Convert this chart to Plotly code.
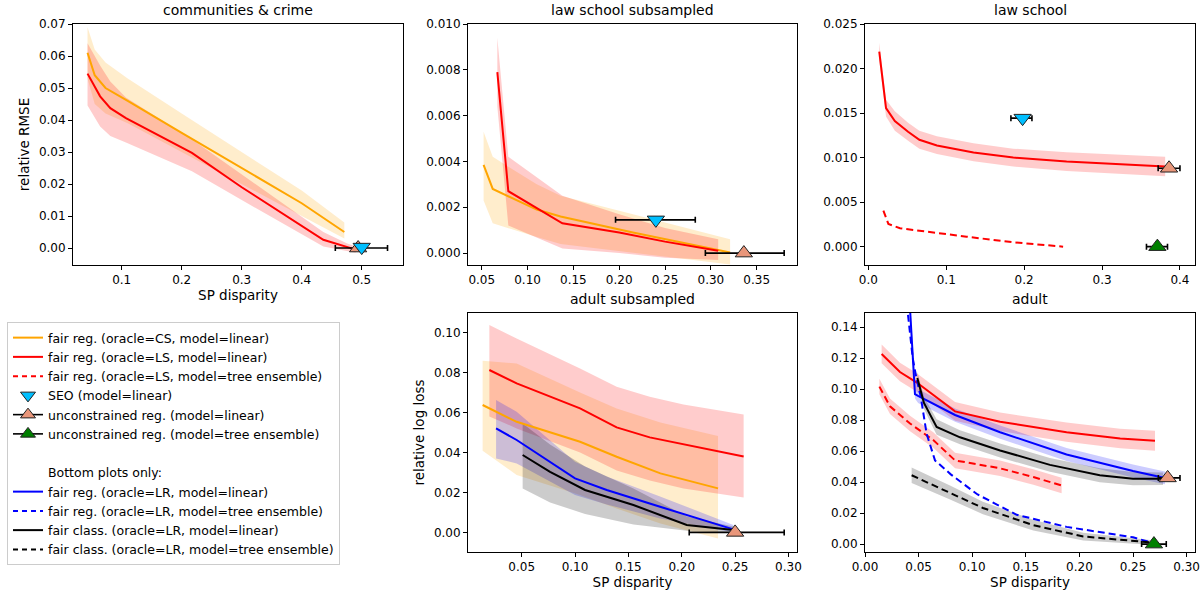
import plotly.graph_objects as go

W, H = 1201, 590

# ---------------- data ----------------
# communities & crime
cc_cs_x = [0.043, 0.055, 0.073, 0.11, 0.20, 0.30, 0.40, 0.471]
cc_cs_y = [0.061, 0.054, 0.050, 0.046, 0.036, 0.025, 0.014, 0.005]
cc_cs_hi = [0.069, 0.062, 0.058, 0.053, 0.042, 0.030, 0.018, 0.008]
cc_cs_lo = [0.053, 0.045, 0.042, 0.039, 0.030, 0.020, 0.010, 0.003]
cc_ls_x = [0.043, 0.064, 0.081, 0.107, 0.217, 0.30, 0.436, 0.475, 0.49]
cc_ls_y = [0.0545, 0.0474, 0.0437, 0.0406, 0.0297, 0.019, 0.0026, 0.0002, -0.0005]
cc_ls_hi = [0.064, 0.057, 0.052, 0.047, 0.034, 0.023, 0.005, 0.0015, 0.0005]
cc_ls_lo = [0.0445, 0.038, 0.035, 0.033, 0.024, 0.015, 0.0005, -0.001, -0.0015]
cc_seo = (0.500, 0.0003, 0.005, 0.005)
cc_unc_lin = (0.494, 0.0, 0.038, 0.049)

# law school subsampled
lss_ls_x = [0.067, 0.079, 0.138, 0.20, 0.25, 0.308]
lss_ls_y = [0.0079, 0.0027, 0.0013, 0.0009, 0.0005, 0.0001]
lss_ls_hi = [0.0094, 0.0042, 0.0025, 0.0017, 0.0011, 0.0006]
lss_ls_lo = [0.0064, 0.0012, 0.0002, 0.0000, -0.0002, -0.0003]
lss_cs_x = [0.052, 0.062, 0.11, 0.136, 0.215, 0.321]
lss_cs_y = [0.00385, 0.0028, 0.0019, 0.0016, 0.0009, 0.00003]
lss_cs_hi = [0.0053, 0.0042, 0.0030, 0.0025, 0.0017, 0.0006]
lss_cs_lo = [0.0023, 0.0013, 0.0007, 0.0004, 0.0000, -0.0005]
lss_seo = (0.240, 0.00145, 0.044, 0.043)
lss_unc_lin = (0.336, 0.0, 0.042, 0.044)

# law school
ls_ls_x = [0.014, 0.0227, 0.034, 0.051, 0.0655, 0.088, 0.135, 0.186, 0.2545, 0.381]
ls_ls_y = [0.0219, 0.01555, 0.0141, 0.0129, 0.0120, 0.01136, 0.01057, 0.0100, 0.00956, 0.0090]
ls_ls_hi = [0.0229, 0.0165, 0.0152, 0.0139, 0.0130, 0.0124, 0.0116, 0.0110, 0.0106, 0.0101]
ls_ls_lo = [0.0209, 0.0146, 0.0130, 0.0119, 0.0110, 0.0104, 0.0096, 0.0090, 0.0085, 0.0079]
ls_lstree_x = [0.0193, 0.0257, 0.0406, 0.0834, 0.126, 0.186, 0.250]
ls_lstree_y = [0.00405, 0.00255, 0.00206, 0.00157, 0.00112, 0.00049, 0.0]
ls_seo = (0.198, 0.01443, 0.015, 0.012)
ls_unc_lin = (0.386, 0.0088, 0.014, 0.014)
ls_unc_tree = (0.371, 0.0, 0.014, 0.013)

# adult subsampled
as_ls_x = [0.0197, 0.0453, 0.1047, 0.139, 0.170, 0.2016, 0.258]
as_ls_y = [0.0812, 0.0745, 0.062, 0.0525, 0.0475, 0.0442, 0.038]
as_ls_hi = [0.1037, 0.097, 0.082, 0.0728, 0.0678, 0.064, 0.059]
as_ls_lo = [0.058, 0.052, 0.040, 0.031, 0.026, 0.022, 0.0175]
as_cs_x = [0.0134, 0.0453, 0.1047, 0.139, 0.18, 0.234]
as_cs_y = [0.0637, 0.0553, 0.0453, 0.0378, 0.0295, 0.022]
as_cs_hi = [0.0858, 0.0845, 0.070, 0.062, 0.055, 0.0482]
as_cs_lo = [0.0408, 0.0287, 0.0187, 0.012, 0.0045, -0.003]
as_lr_x = [0.026, 0.0453, 0.100, 0.1297, 0.1797, 0.2484]
as_lr_y = [0.052, 0.0462, 0.027, 0.0212, 0.0128, 0.0015]
as_lr_hi = [0.0662, 0.0603, 0.0353, 0.028, 0.018, 0.0037]
as_lr_lo = [0.037, 0.0345, 0.0187, 0.014, 0.007, 0.0]
as_cl_x = [0.0509, 0.0766, 0.1094, 0.1547, 0.2047, 0.2484]
as_cl_y = [0.0387, 0.0303, 0.0212, 0.0137, 0.0037, 0.0012]
as_cl_hi = [0.0545, 0.044, 0.033, 0.022, 0.008, 0.003]
as_cl_lo = [0.022, 0.015, 0.0092, 0.004, 0.0008, 0.0]
as_unc_lin = (0.250, 0.0, 0.043, 0.046)

# adult
ad_ls_x = [0.0155, 0.0326, 0.048, 0.084, 0.126, 0.188, 0.238, 0.2705]
ad_ls_y = [0.1227, 0.111, 0.1044, 0.0856, 0.0789, 0.0722, 0.0682, 0.0667]
ad_ls_hi = [0.1287, 0.117, 0.1104, 0.0916, 0.0849, 0.0784, 0.0745, 0.0732]
ad_ls_lo = [0.1167, 0.105, 0.0984, 0.0796, 0.0729, 0.0660, 0.0619, 0.0602]
ad_lstree_x = [0.0134, 0.0233, 0.042, 0.0637, 0.084, 0.126, 0.157, 0.1834]
ad_lstree_y = [0.1016, 0.0889, 0.0778, 0.0671, 0.054, 0.0489, 0.0433, 0.0378]
ad_lstree_hi = [0.1066, 0.0939, 0.0828, 0.0721, 0.059, 0.0539, 0.0483, 0.0428]
ad_lstree_lo = [0.0966, 0.0839, 0.0728, 0.0621, 0.049, 0.0439, 0.0383, 0.0328]
ad_lr_x = [0.0413, 0.0466, 0.0495, 0.084, 0.126, 0.188, 0.250, 0.2798]
ad_lr_y = [0.16, 0.0967, 0.0956, 0.0833, 0.0722, 0.0578, 0.0471, 0.0427]
ad_lr_hi = [0.165, 0.108, 0.1, 0.0875, 0.0765, 0.062, 0.0513, 0.0468]
ad_lr_lo = [0.155, 0.094, 0.091, 0.079, 0.068, 0.0536, 0.043, 0.0386]
ad_lrtree_x = [0.039, 0.0445, 0.048, 0.052, 0.0575, 0.0653, 0.08, 0.105, 0.1415, 0.188, 0.25, 0.27]
ad_lrtree_y = [0.155, 0.12, 0.107, 0.095, 0.0711, 0.054, 0.045, 0.032, 0.0189, 0.0111, 0.0044, 0.0004]
ad_cl_x = [0.0488, 0.055, 0.0668, 0.0886, 0.126, 0.1725, 0.219, 0.25, 0.278]
ad_cl_y = [0.1071, 0.0911, 0.0756, 0.0689, 0.0604, 0.0511, 0.0444, 0.0422, 0.0422]
ad_cl_hi = [0.1111, 0.0951, 0.0806, 0.0734, 0.0649, 0.0556, 0.0489, 0.0465, 0.0462]
ad_cl_lo = [0.1031, 0.0871, 0.0706, 0.0644, 0.0559, 0.0466, 0.0399, 0.0379, 0.0382]
ad_cltree_x = [0.0435, 0.0793, 0.110, 0.157, 0.2036, 0.266]
ad_cltree_y = [0.0444, 0.0333, 0.0233, 0.0122, 0.0049, 0.0011]
ad_cltree_hi = [0.0494, 0.0378, 0.0273, 0.0157, 0.0074, 0.0026]
ad_cltree_lo = [0.0394, 0.0288, 0.0193, 0.0087, 0.0024, -0.0004]
ad_unc_lin = (0.2823, 0.0427, 0.0087, 0.0115)
ad_unc_tree = (0.2695, 0.0, 0.0115, 0.0115)

titles = ["communities & crime", "law school subsampled", "law school",
          "adult subsampled", "adult"]

# ---------------- styling ----------------
ORANGE = "#FFA500"
RED = "#FF0000"
BLUE = "#0000FF"
BLACK = "#000000"
BAND = {ORANGE: "rgba(255,165,0,0.2)", RED: "rgba(255,0,0,0.2)",
        BLUE: "rgba(0,0,255,0.2)", BLACK: "rgba(0,0,0,0.2)"}
SEO_C = "#00BFFF"
UNC_LIN_C = "#E9967A"
UNC_TREE_C = "#008000"
FONT = "DejaVu Sans"

# pixel boxes (left, top, right, bottom)
boxes = [(73, 24, 403, 265), (468, 24, 797, 265), (865, 24, 1195, 265),
         (468, 313, 797, 552), (865, 313, 1195, 552)]

fig = go.Figure()


def axref(i):
    n = "" if i == 0 else str(i + 1)
    return "x" + n, "y" + n


def band(i, x, lo, hi, color):
    xa, ya = axref(i)
    fig.add_trace(go.Scatter(x=list(x) + list(x)[::-1], y=list(hi) + list(lo)[::-1],
                             fill="toself", fillcolor=BAND[color], line=dict(width=0),
                             mode="lines", hoverinfo="skip", showlegend=False,
                             xaxis=xa, yaxis=ya))


def line(i, x, y, color, dash="solid"):
    xa, ya = axref(i)
    fig.add_trace(go.Scatter(x=x, y=y, mode="lines",
                             line=dict(color=color, width=2, dash=dash),
                             showlegend=False, xaxis=xa, yaxis=ya))


def marker(i, pt, color, symbol):
    xa, ya = axref(i)
    x, y, em, ep = pt
    fig.add_trace(go.Scatter(x=[x], y=[y], mode="markers",
                             marker=dict(symbol=symbol, size=15, color=color,
                                         line=dict(color="#222222", width=1)),
                             error_x=dict(type="data", array=[ep], arrayminus=[em],
                                          color="black", thickness=1.6, width=3),
                             showlegend=False, xaxis=xa, yaxis=ya))


DASH = "7px,4px"

# communities & crime
band(0, cc_cs_x, cc_cs_lo, cc_cs_hi, ORANGE)
band(0, cc_ls_x, cc_ls_lo, cc_ls_hi, RED)
line(0, cc_cs_x, cc_cs_y, ORANGE)
line(0, cc_ls_x, cc_ls_y, RED)
marker(0, cc_unc_lin, UNC_LIN_C, "triangle-up")
marker(0, cc_seo, SEO_C, "triangle-down")

# law school subsampled
band(1, lss_cs_x, lss_cs_lo, lss_cs_hi, ORANGE)
band(1, lss_ls_x, lss_ls_lo, lss_ls_hi, RED)
line(1, lss_cs_x, lss_cs_y, ORANGE)
line(1, lss_ls_x, lss_ls_y, RED)
marker(1, lss_seo, SEO_C, "triangle-down")
marker(1, lss_unc_lin, UNC_LIN_C, "triangle-up")

# law school
band(2, ls_ls_x, ls_ls_lo, ls_ls_hi, RED)
line(2, ls_ls_x, ls_ls_y, RED)
line(2, ls_lstree_x, ls_lstree_y, RED, DASH)
marker(2, ls_seo, SEO_C, "triangle-down")
marker(2, ls_unc_lin, UNC_LIN_C, "triangle-up")
marker(2, ls_unc_tree, UNC_TREE_C, "triangle-up")

# adult subsampled
band(3, as_cs_x, as_cs_lo, as_cs_hi, ORANGE)
band(3, as_ls_x, as_ls_lo, as_ls_hi, RED)
band(3, as_lr_x, as_lr_lo, as_lr_hi, BLUE)
band(3, as_cl_x, as_cl_lo, as_cl_hi, BLACK)
line(3, as_cs_x, as_cs_y, ORANGE)
line(3, as_ls_x, as_ls_y, RED)
line(3, as_lr_x, as_lr_y, BLUE)
line(3, as_cl_x, as_cl_y, BLACK)
marker(3, as_unc_lin, UNC_LIN_C, "triangle-up")

# adult
band(4, ad_ls_x, ad_ls_lo, ad_ls_hi, RED)
band(4, ad_lstree_x, ad_lstree_lo, ad_lstree_hi, RED)
band(4, ad_lr_x, ad_lr_lo, ad_lr_hi, BLUE)
band(4, ad_cl_x, ad_cl_lo, ad_cl_hi, BLACK)
band(4, ad_cltree_x, ad_cltree_lo, ad_cltree_hi, BLACK)
line(4, ad_ls_x, ad_ls_y, RED)
line(4, ad_lstree_x, ad_lstree_y, RED, DASH)
line(4, ad_lr_x, ad_lr_y, BLUE)
line(4, ad_lrtree_x, ad_lrtree_y, BLUE, DASH)
line(4, ad_cl_x, ad_cl_y, BLACK)
line(4, ad_cltree_x, ad_cltree_y, BLACK, DASH)
marker(4, ad_unc_lin, UNC_LIN_C, "triangle-up")
marker(4, ad_unc_tree, UNC_TREE_C, "triangle-up")

# legend entries
legend_items = [
    ("fair reg. (oracle=CS, model=linear)", "line", ORANGE, "solid"),
    ("fair reg. (oracle=LS, model=linear)", "line", RED, "solid"),
    ("fair reg. (oracle=LS, model=tree ensemble)", "line", RED, "5px,4px"),
    ("SEO (model=linear)", "triangle-down", SEO_C, None),
    ("unconstrained reg. (model=linear)", "triangle-up-err", UNC_LIN_C, None),
    ("unconstrained reg. (model=tree ensemble)", "triangle-up-err", UNC_TREE_C, None),
    (" ", "blank", None, None),
    ("Bottom plots only:", "blank", None, None),
    ("fair reg. (oracle=LR, model=linear)", "line", BLUE, "solid"),
    ("fair reg. (oracle=LR, model=tree ensemble)", "line", BLUE, "5px,4px"),
    ("fair class. (oracle=LR, model=linear)", "line", BLACK, "solid"),
    ("fair class. (oracle=LR, model=tree ensemble)", "line", BLACK, "5px,4px"),
]
for k, (name, kind, col, dash) in enumerate(legend_items):
    if kind == "line":
        tr = go.Scatter(x=[None], y=[None], mode="lines", name=name,
                        line=dict(color=col, width=2, dash=dash))
    elif kind == "blank":
        tr = go.Scatter(x=[None], y=[None], mode="lines", name=name,
                        line=dict(color="rgba(0,0,0,0)", width=2))
    elif kind == "triangle-up-err":
        tr = go.Scatter(x=[None], y=[None], mode="lines+markers", name=name,
                        line=dict(color="black", width=1.6),
                        marker=dict(symbol="triangle-up", size=13, color=col,
                                    line=dict(color="#222222", width=1)))
    else:
        tr = go.Scatter(x=[None], y=[None], mode="markers", name=name,
                        marker=dict(symbol=kind, size=13, color=col,
                                    line=dict(color="#222222", width=1)))
    tr.update(legendrank=k + 1, xaxis="x", yaxis="y")
    fig.add_trace(tr)

axis_common = dict(showline=True, mirror=True, linecolor="black", linewidth=1,
                   ticks="outside", ticklen=4, tickcolor="black", showgrid=False,
                   zeroline=False, automargin=False,
                   tickfont=dict(family=FONT, size=12, color="black"))

xcfg = [
    dict(range=[0.0188, 0.5688], tickvals=[0.1, 0.2, 0.3, 0.4, 0.5], tickformat=".1f"),
    dict(range=[0.035, 0.394], tickvals=[0.05, 0.10, 0.15, 0.20, 0.25, 0.30, 0.35], tickformat=".2f"),
    dict(range=[-0.0043, 0.4193], tickvals=[0.0, 0.1, 0.2, 0.3, 0.4], tickformat=".1f"),
    dict(range=[-0.0003, 0.308], tickvals=[0.05, 0.10, 0.15, 0.20, 0.25, 0.30], tickformat=".2f"),
    dict(range=[0.0, 0.3078], tickvals=[0.0, 0.05, 0.10, 0.15, 0.20, 0.25, 0.30], tickformat=".2f"),
]
ycfg = [
    dict(range=[-0.0053, 0.07], tickvals=[0.0, 0.01, 0.02, 0.03, 0.04, 0.05, 0.06, 0.07], tickformat=".2f"),
    dict(range=[-0.00052, 0.010], tickvals=[0.0, 0.002, 0.004, 0.006, 0.008, 0.010], tickformat=".3f"),
    dict(range=[-0.00206, 0.025], tickvals=[0.0, 0.005, 0.010, 0.015, 0.020, 0.025], tickformat=".3f"),
    dict(range=[-0.0098, 0.1097], tickvals=[0.0, 0.02, 0.04, 0.06, 0.08, 0.10], tickformat=".2f"),
    dict(range=[-0.0051, 0.1491], tickvals=[0.0, 0.02, 0.04, 0.06, 0.08, 0.10, 0.12, 0.14], tickformat=".2f"),
]
xtitles = ["SP disparity", None, None, "SP disparity", "SP disparity"]
ytitles = ["relative RMSE", None, None, "relative log loss", None]

layout = dict(width=W, height=H, autosize=False,
              margin=dict(l=0, r=0, t=0, b=0, pad=0, autoexpand=False),
              paper_bgcolor="white", plot_bgcolor="white",
              font=dict(family=FONT, size=12, color="black"))
annotations = []
for i, (l, t, r, b) in enumerate(boxes):
    n = "" if i == 0 else str(i + 1)
    xa = dict(axis_common, domain=[l / W, r / W], anchor="y" + n, **xcfg[i])
    ya = dict(axis_common, domain=[1 - b / H, 1 - t / H], anchor="x" + n, **ycfg[i])
    if xtitles[i]:
        xa["title"] = dict(text=xtitles[i], font=dict(family=FONT, size=13.5), standoff=4)
    if ytitles[i]:
        ya["title"] = dict(text=ytitles[i], font=dict(family=FONT, size=13.5), standoff=6)
    layout["xaxis" + n] = xa
    layout["yaxis" + n] = ya
    annotations.append(dict(text=titles[i], x=(l + r) / 2 / W, y=1 - (t - 4) / H,
                            xref="paper", yref="paper", xanchor="center", yanchor="bottom",
                            showarrow=False, font=dict(family=FONT, size=14, color="black")))
layout["annotations"] = annotations
layout["legend"] = dict(x=7 / W, y=1 - 322 / H, xanchor="left", yanchor="top",
                        bordercolor="#CCCCCC", borderwidth=1, bgcolor="white",
                        font=dict(family=FONT, size=12.5, color="black"),
                        tracegroupgap=0, itemwidth=30)
fig.update_layout(**layout)

fig.write_html("out.html", config={"displayModeBar": False},
               post_script="document.body.style.margin='0px';document.body.style.overflow='hidden';")
